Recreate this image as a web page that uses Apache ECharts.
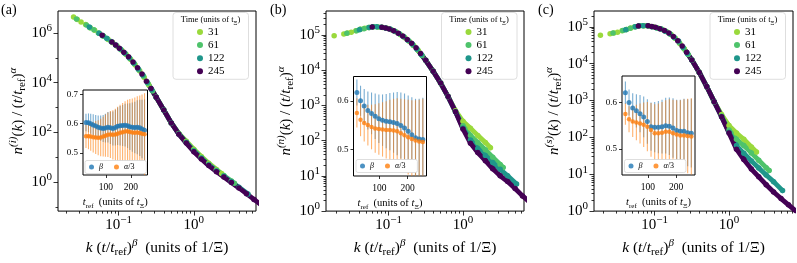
<!DOCTYPE html>
<html><head><meta charset="utf-8">
<script src="https://cdn.jsdelivr.net/npm/echarts@6/dist/echarts.min.js"></script>
<style>html,body{margin:0;padding:0;background:#fff}#c{width:797px;height:263px}</style>
</head><body><div id="c"></div><script>
// ---------------- data ----------------
const times = ['31', '61', '122', '245'];
// k (t/t_ref)^beta grid of each time (units of 1/Xi)
const k31 = [0.0186, 0.0251, 0.0282, 0.0316, 0.0363, 0.0417, 0.0479, 0.0550, 0.0631, 0.0724, 0.0832, 0.0955, 0.110, 0.126, 0.145, 0.166, 0.191, 0.219, 0.251, 0.316, 0.398, 0.501, 0.631, 0.794, 1.00, 1.26, 1.58, 2.00, 2.34];
const k61 = [0.0275, 0.0372, 0.0417, 0.0468, 0.0537, 0.0617, 0.0708, 0.0813, 0.0933, 0.107, 0.123, 0.141, 0.162, 0.186, 0.214, 0.245, 0.282, 0.316, 0.398, 0.501, 0.631, 0.794, 1.00, 1.26, 1.58, 2.00, 2.51, 3.16, 3.47];
const k122 = [0.0407, 0.0550, 0.0617, 0.0692, 0.0794, 0.0912, 0.105, 0.120, 0.138, 0.158, 0.182, 0.209, 0.240, 0.275, 0.316, 0.398, 0.501, 0.631, 0.794, 1.00, 1.26, 1.58, 2.00, 2.51, 3.16, 3.98, 5.25];
const k245 = [0.0603, 0.0813, 0.0912, 0.102, 0.117, 0.135, 0.155, 0.178, 0.204, 0.234, 0.269, 0.316, 0.398, 0.501, 0.631, 0.794, 1.00, 1.26, 1.58, 2.00, 2.51, 3.16, 3.98, 5.01, 6.31, 7.94];

// panel (a): n^(i)(k)/(t/t_ref)^alpha
const nA31 = [8.1e6, 4.5e6, 3.5e6, 2.8e6, 2.2e6, 1.66e6, 1.29e6, 9.8e5, 7.4e5, 5.5e5, 4.1e5, 2.95e5, 2.04e5, 1.38e5, 8.7e4, 5.2e4, 3.0e4, 1.62e4, 8.3e3, 2.63e3, 800, 240, 91, 44, 21, 10.7, 5.75, 3.24, 2.19];
const nA61 = [3.7e6, 2.1e6, 1.66e6, 1.35e6, 1.02e6, 7.8e5, 5.9e5, 4.4e5, 3.16e5, 2.19e5, 1.48e5, 9.5e4, 5.8e4, 3.3e4, 1.82e4, 9.3e3, 4.7e3, 2.63e3, 794, 240, 89, 41, 19, 9.8, 5.2, 3.0, 1.82, 1.1, 0.89];
const nA122 = [1.74e6, 9.8e5, 7.8e5, 6.2e5, 4.6e5, 3.3e5, 2.3e5, 1.58e5, 1.02e5, 6.3e4, 3.6e4, 2.04e4, 1.05e4, 5.2e3, 2.63e3, 794, 240, 87, 39, 17.8, 9.1, 4.9, 2.82, 1.7, 1.02, 0.62, 0.33];
const nA245 = [8.1e5, 4.4e5, 3.3e5, 2.45e5, 1.7e5, 1.12e5, 6.8e4, 4.0e4, 2.24e4, 1.15e4, 5.9e3, 2.63e3, 794, 240, 85, 37, 16.6, 8.5, 4.6, 2.63, 1.58, 0.95, 0.58, 0.34, 0.2, 0.117];
// panel (b): n^(n)
const nB31 = [9.5e4, 1.07e5, 1.13e5, 1.2e5, 1.32e5, 1.45e5, 1.55e5, 1.62e5, 1.7e5, 1.68e5, 1.64e5, 1.55e5, 1.41e5, 1.23e5, 1.02e5, 8.3e4, 6.5e4, 4.9e4, 3.6e4, 1.9e4, 9.3e3, 4.3e3, 1.78e3, 710, 355, 224, 141, 89, 63];
const nB61 = [1.12e5, 1.32e5, 1.45e5, 1.51e5, 1.62e5, 1.7e5, 1.68e5, 1.66e5, 1.55e5, 1.43e5, 1.26e5, 1.07e5, 8.7e4, 6.8e4, 5.1e4, 3.8e4, 2.63e4, 1.9e4, 9.3e3, 4.3e3, 1.78e3, 676, 263, 141, 89, 55, 34, 21, 17.4];
const nB122 = [1.41e5, 1.62e5, 1.7e5, 1.7e5, 1.66e5, 1.58e5, 1.48e5, 1.29e5, 1.1e5, 9.1e4, 7.1e4, 5.5e4, 4.0e4, 2.8e4, 1.9e4, 9.3e3, 4.3e3, 1.78e3, 660, 229, 105, 60, 38, 24, 15.5, 10, 5.9];
const nB245 = [1.68e5, 1.66e5, 1.58e5, 1.48e5, 1.32e5, 1.12e5, 9.3e4, 7.4e4, 5.8e4, 4.3e4, 3.0e4, 1.9e4, 9.3e3, 4.3e3, 1.78e3, 660, 214, 85, 46, 27, 15.8, 10, 6.9, 4.4, 2.7, 1.78];
// panel (c): n^(s)
const nC31 = [5.9e4, 6.5e4, 6.8e4, 7.1e4, 7.8e4, 8.5e4, 9.3e4, 1.0e5, 1.07e5, 1.07e5, 1.06e5, 1.0e5, 9.3e4, 8.5e4, 7.4e4, 6.2e4, 4.8e4, 3.5e4, 2.5e4, 1.26e4, 5.8e3, 2.4e3, 933, 417, 209, 132, 89, 55, 40];
const nC61 = [6.8e4, 7.9e4, 8.5e4, 9.1e4, 1.0e5, 1.07e5, 1.07e5, 1.07e5, 1.0e5, 9.3e4, 8.7e4, 7.6e4, 6.3e4, 5.0e4, 3.7e4, 2.63e4, 1.78e4, 1.26e4, 5.8e3, 2.4e3, 933, 380, 158, 89, 60, 38, 24, 15.1, 12.6];
const nC122 = [8.3e4, 1.0e5, 1.07e5, 1.07e5, 1.07e5, 1.0e5, 9.5e4, 8.7e4, 7.6e4, 6.6e4, 5.2e4, 4.1e4, 2.8e4, 1.9e4, 1.26e4, 5.8e3, 2.4e3, 933, 363, 138, 60, 37, 23, 14.8, 9.5, 6.3, 3.6];
const nC245 = [1.05e5, 1.07e5, 1.02e5, 9.8e4, 8.9e4, 7.9e4, 6.8e4, 5.5e4, 4.2e4, 3.0e4, 2.04e4, 1.26e4, 5.8e3, 2.4e3, 933, 363, 132, 48, 25, 13.8, 8.5, 5.2, 3.3, 2.19, 1.48, 1.0];

// insets: t_ref (units of t_Xi), beta and alpha/3 with errors
const tA = [20, 30, 39, 49, 59, 69, 79, 89, 98, 108, 118, 128, 138, 147, 157, 167, 177, 187, 196, 206, 216, 226, 236, 245, 255];
const betaA = [0.604, 0.603, 0.600, 0.596, 0.592, 0.588, 0.585, 0.584, 0.585, 0.588, 0.586, 0.584, 0.587, 0.591, 0.593, 0.594, 0.595, 0.593, 0.590, 0.588, 0.587, 0.588, 0.586, 0.582, 0.578];
const betaErrA = [0.030, 0.032, 0.034, 0.036, 0.038, 0.040, 0.043, 0.046, 0.049, 0.052, 0.055, 0.058, 0.061, 0.064, 0.067, 0.070, 0.073, 0.076, 0.080, 0.084, 0.088, 0.092, 0.096, 0.100, 0.105];
const alphaA = [0.557, 0.557, 0.556, 0.554, 0.553, 0.552, 0.553, 0.556, 0.559, 0.562, 0.563, 0.562, 0.563, 0.566, 0.569, 0.571, 0.573, 0.574, 0.572, 0.570, 0.569, 0.570, 0.568, 0.566, 0.564];
const alphaErrA = [0.040, 0.044, 0.048, 0.052, 0.056, 0.060, 0.064, 0.068, 0.072, 0.076, 0.080, 0.084, 0.088, 0.092, 0.096, 0.100, 0.104, 0.108, 0.112, 0.116, 0.120, 0.124, 0.128, 0.134, 0.140];

const tBC = [20, 33, 46, 59, 72, 85, 98, 111, 124, 137, 150, 163, 176, 189, 202, 215, 228, 241, 254];
const betaB = [0.617, 0.600, 0.589, 0.580, 0.574, 0.568, 0.563, 0.560, 0.558, 0.557, 0.555, 0.553, 0.549, 0.544, 0.537, 0.530, 0.524, 0.521, 0.520];
const betaErrB = [0.027, 0.031, 0.035, 0.039, 0.043, 0.047, 0.050, 0.053, 0.056, 0.059, 0.062, 0.065, 0.068, 0.071, 0.074, 0.077, 0.080, 0.083, 0.086];
const alphaB = [0.575, 0.561, 0.554, 0.550, 0.546, 0.543, 0.542, 0.541, 0.540, 0.540, 0.539, 0.537, 0.533, 0.529, 0.525, 0.521, 0.518, 0.516, 0.515];
const alphaErrB = [0.030, 0.034, 0.038, 0.042, 0.046, 0.050, 0.053, 0.056, 0.059, 0.062, 0.065, 0.068, 0.071, 0.074, 0.077, 0.080, 0.083, 0.086, 0.089];

const betaC = [0.621, 0.600, 0.588, 0.582, 0.576, 0.569, 0.559, 0.548, 0.547, 0.547, 0.548, 0.550, 0.549, 0.545, 0.540, 0.538, 0.538, 0.535, 0.534];
const betaErrC = [0.024, 0.028, 0.032, 0.036, 0.040, 0.044, 0.048, 0.052, 0.054, 0.056, 0.058, 0.060, 0.062, 0.064, 0.066, 0.068, 0.070, 0.072, 0.074];
const alphaC = [0.575, 0.564, 0.559, 0.557, 0.555, 0.552, 0.548, 0.541, 0.534, 0.534, 0.535, 0.537, 0.537, 0.534, 0.531, 0.529, 0.529, 0.528, 0.527];
const alphaErrC = [0.023, 0.028, 0.033, 0.038, 0.043, 0.048, 0.053, 0.058, 0.062, 0.064, 0.066, 0.068, 0.070, 0.072, 0.074, 0.076, 0.078, 0.080, 0.082];

const refLine = 0.5;
const insetTicksX = [100, 200];

// ---------------- styling ----------------
const FONT = 'Liberation Serif';
const COLORS = ['#9ad93c', '#4ec36b', '#1f968b', '#440154'];
const BLUE = '#1f77b4', ORANGE = '#ff7f0e';
const kGrid = [k31, k61, k122, k245];

function rich(size) {
  const s = size, ss = Math.round(size * 0.7);
  return {
    r: {fontFamily: FONT, fontSize: s, lineHeight: s + 5, verticalAlign: 'middle', color: '#000'},
    i: {fontFamily: FONT, fontSize: s, fontStyle: 'italic', lineHeight: s + 5, verticalAlign: 'middle', color: '#000'},
    sup: {fontFamily: FONT, fontSize: ss, lineHeight: ss + 2, verticalAlign: 'top', color: '#000'},
    supi: {fontFamily: FONT, fontSize: ss, fontStyle: 'italic', lineHeight: ss + 2, verticalAlign: 'top', color: '#000'},
    sub: {fontFamily: FONT, fontSize: ss, lineHeight: ss + 1, verticalAlign: 'bottom', color: '#000'}
  };
}
const lg = Math.log10;
function minorLogTicks(lo, hi) {
  const out = [];
  for (let d = Math.floor(lo) - 1; d <= Math.ceil(hi); d++) {
    for (let m = 2; m <= 9; m++) { const v = d + lg(m); if (v >= lo && v <= hi) out.push(v); }
  }
  return out;
}
const powFmt = v => '{r|10}{sup|' + (v < 0 ? '\u2212' + (-v) : v) + '}';

const panels = [
  {lab: '(a)', labX: 1, sup: '(i)', grid: {left: 58, top: 11, width: 198, height: 201},
   x: [-1.807, 0.827], y: [-1.17, 6.89], yMajor: [0, 2, 4, 6], yMinor: [-1, 1, 3, 5],
   n: [nA31, nA61, nA122, nA245],
   inset: {grid: {left: 83, top: 90, width: 64.5, height: 85}, y: [0.425, 0.715], yt: [0.5, 0.6, 0.7],
           t: tA, beta: betaA, be: betaErrA, alpha: alphaA, ae: alphaErrA, leg: {left: 85, top: 160.5}},
   legLeft: 173},
  {lab: '(b)', labX: 270, sup: '(n)', grid: {left: 326, top: 11, width: 198, height: 201},
   x: [-1.84, 0.82], y: [0, 5.68], yMajor: [0, 1, 2, 3, 4, 5], yMinor: null,
   n: [nB31, nB61, nB122, nB245],
   inset: {grid: {left: 353.5, top: 76.5, width: 73, height: 99.5}, y: [0.445, 0.65], yt: [0.5, 0.6],
           t: tBC, beta: betaB, be: betaErrB, alpha: alphaB, ae: alphaErrB, leg: {left: 356, top: 159.5}},
   legLeft: 441.5},
  {lab: '(c)', labX: 538, sup: '(s)', grid: {left: 594, top: 11, width: 199, height: 201},
   x: [-1.817, 0.861], y: [0, 5.43], yMajor: [0, 1, 2, 3, 4, 5], yMinor: null,
   n: [nC31, nC61, nC122, nC245],
   inset: {grid: {left: 622, top: 76, width: 73, height: 99}, y: [0.444, 0.657], yt: [0.5, 0.6],
           t: tBC, beta: betaC, be: betaErrC, alpha: alphaC, ae: alphaErrC, leg: {left: 624.5, top: 159.5}},
   legLeft: 710}
];

const grid = [], xAxis = [], yAxis = [], series = [], legend = [], graphic = [];

function errBars(col) {
  return function (params, api) {
    const x = api.value(0), y = api.value(1), e = api.value(2);
    const a = api.coord([x, y - e]), b = api.coord([x, y + e]);
    const cs = params.coordSys;
    return {type: 'line', shape: {x1: a[0], y1: Math.min(a[1], cs.y + cs.height), x2: b[0], y2: Math.max(b[1], cs.y)},
            style: {stroke: col, lineWidth: 1.1}};
  };
}

const noLine = {show: false, onZero: false};
panels.forEach((p, pi) => {
  const gi = grid.length;
  grid.push(Object.assign({show: true, borderColor: '#000', borderWidth: 1, backgroundColor: 'transparent', z: 0}, p.grid));
  grid.push(Object.assign({show: true, borderColor: '#000', borderWidth: 1, backgroundColor: '#fff', z: 8}, p.inset.grid));
  const xb = xAxis.length, yb = yAxis.length;
  const tickLine = {color: '#000', width: 0.8};
  // main x (major + minor)
  xAxis.push({gridIndex: gi, type: 'value', position: 'bottom', min: p.x[0], max: p.x[1], axisLine: noLine, splitLine: {show: false},
    axisTick: {show: true, customValues: [-1, 0], length: 4.5, lineStyle: tickLine},
    axisLabel: {customValues: [-1, 0], formatter: powFmt, margin: 4, rich: rich(15)},
    name: '{i|k}{r| (}{i|t}{r|/}{i|t}{sub|ref}{r|)}{supi|\u03b2}{r|  (units of 1/\u039e)}',
    nameLocation: 'middle', nameGap: 25, nameTextStyle: {rich: rich(15.5)}});
  xAxis.push({gridIndex: gi, type: 'value', position: 'bottom', min: p.x[0], max: p.x[1], axisLine: noLine, splitLine: {show: false},
    axisTick: {show: true, customValues: minorLogTicks(p.x[0], p.x[1]), length: 2.5, lineStyle: tickLine},
    axisLabel: {show: false}});
  // inset x
  xAxis.push({gridIndex: gi + 1, type: 'value', position: 'bottom', min: 8, max: 267, z: 9, axisLine: noLine, splitLine: {show: false},
    axisTick: {show: true, customValues: insetTicksX, length: 3, lineStyle: tickLine},
    axisLabel: {customValues: insetTicksX, fontFamily: FONT, fontSize: 9.5, color: '#000', margin: 7},
    name: '{i|t}{sub|ref}{r|  (units of }{i|t}{sub|\u039e}{r|)}', nameLocation: 'middle', nameGap: 19,
    nameTextStyle: {rich: rich(10.5)}});
  // main y
  yAxis.push({gridIndex: gi, type: 'value', position: 'left', min: p.y[0], max: p.y[1], axisLine: noLine, splitLine: {show: false},
    axisTick: {show: true, customValues: p.yMajor, length: 4.5, lineStyle: tickLine},
    axisLabel: {customValues: p.yMajor, formatter: powFmt, margin: 6, rich: rich(15)},
    name: '{i|n}{supi|' + p.sup + '}{r|(}{i|k}{r|) / (}{i|t}{r|/}{i|t}{sub|ref}{r|)}{supi|\u03b1}',
    nameLocation: 'middle', nameRotate: 90, nameGap: 30, nameTextStyle: {rich: rich(15)}});
  yAxis.push({gridIndex: gi, type: 'value', position: 'left', min: p.y[0], max: p.y[1], axisLine: noLine, splitLine: {show: false},
    axisTick: {show: true, customValues: p.yMinor || minorLogTicks(p.y[0], p.y[1]), length: 2.5, lineStyle: tickLine},
    axisLabel: {show: false}});
  // inset y
  yAxis.push({gridIndex: gi + 1, type: 'value', position: 'left', min: p.inset.y[0], max: p.inset.y[1], z: 9, axisLine: noLine, splitLine: {show: false},
    axisTick: {show: true, customValues: p.inset.yt, length: 3, lineStyle: tickLine},
    axisLabel: {customValues: p.inset.yt, formatter: v => v.toFixed(1), fontFamily: FONT, fontSize: 9, color: '#000', margin: 5}});

  // main curves
  times.forEach((tm, j) => {
    const data = kGrid[j].map((kk, i) => [lg(kk), lg(p.n[j][i])]);
    series.push({type: 'line', name: tm, xAxisIndex: xb, yAxisIndex: yb, data: data.filter(d => d[0] >= -0.62),
      symbol: 'none', lineStyle: {width: 4.8, color: COLORS[j], cap: 'round', join: 'round'}, itemStyle: {color: COLORS[j]},
      z: 2});
    series.push({type: 'scatter', name: tm, xAxisIndex: xb, yAxisIndex: yb, data: data, symbolSize: 5.5,
      itemStyle: {color: COLORS[j], opacity: 1}, silent: true, z: 2});
  });

  // inset
  const ins = p.inset;
  series.push({type: 'custom', name: 'betaErr', xAxisIndex: xb + 2, yAxisIndex: yb + 2,
    data: ins.t.map((t, i) => [t, ins.beta[i], ins.be[i]]), renderItem: errBars('rgba(31,119,180,0.6)'), z: 10, silent: true});
  series.push({type: 'scatter', name: '\u03b2', xAxisIndex: xb + 2, yAxisIndex: yb + 2,
    data: ins.t.map((t, i) => [t, ins.beta[i]]), symbolSize: 5, itemStyle: {color: BLUE}, z: 10, silent: true});
  series.push({type: 'custom', name: 'alphaErr', xAxisIndex: xb + 2, yAxisIndex: yb + 2,
    data: ins.t.map((t, i) => [t, ins.alpha[i], ins.ae[i]]), renderItem: errBars('rgba(255,127,14,0.6)'), z: 10, silent: true});
  series.push({type: 'scatter', name: '\u03b1/3', xAxisIndex: xb + 2, yAxisIndex: yb + 2,
    data: ins.t.map((t, i) => [t, ins.alpha[i]]), symbolSize: 4.5, itemStyle: {color: ORANGE}, z: 10, silent: true,
    markLine: {symbol: 'none', silent: true, label: {show: false}, animation: false,
      lineStyle: {color: '#8c8c8c', type: [6, 3], width: 2}, data: [{yAxis: refLine}]}});

  // legends
  legend.push({left: p.legLeft, top: 12.5, orient: 'vertical', data: times, icon: 'circle', itemWidth: 6, itemHeight: 6,
    itemGap: 1.1, selectedMode: false, padding: [13.5, 24, 2, 24], borderColor: '#d6d6d6', borderWidth: 0.8, borderRadius: 3,
    backgroundColor: 'rgba(255,255,255,0.85)', textStyle: {fontFamily: FONT, fontSize: 11, lineHeight: 12, color: '#000'}, z: 6});
  legend.push({left: ins.leg.left, top: ins.leg.top, orient: 'horizontal', data: ['\u03b2', '\u03b1/3'], icon: 'circle',
    itemWidth: 5, itemHeight: 5, itemGap: 11, selectedMode: false, padding: [2.5, 12, 2.5, 4], borderColor: '#d6d6d6',
    borderWidth: 0.8, borderRadius: 2, backgroundColor: '#fff', z: 12,
    formatter: nm => nm === '\u03b2' ? '{i|\u03b2}' : '{i|\u03b1}{r|/3}',
    textStyle: {fontFamily: FONT, fontSize: 8, color: '#000', rich: {i: {fontFamily: FONT, fontSize: 8, fontStyle: 'italic'}, r: {fontFamily: FONT, fontSize: 8}}}});
  graphic.push({type: 'text', x: p.legLeft + 37.5, y: 19.5, z: 20,
    style: {text: '{r|Time (units of t}{sub|\u039e}{r|)}', align: 'center', verticalAlign: 'middle', rich: rich(8.5)}});
  graphic.push({type: 'text', x: p.labX, y: 3, z: 20, style: {text: p.lab, fontFamily: FONT, fontSize: 14, fill: '#000'}});
});

const chart = echarts.init(document.getElementById('c'), null, {renderer: 'canvas'});
chart.setOption({animation: false, backgroundColor: '#fff', grid, xAxis, yAxis, series, legend, graphic});
</script></body></html>
